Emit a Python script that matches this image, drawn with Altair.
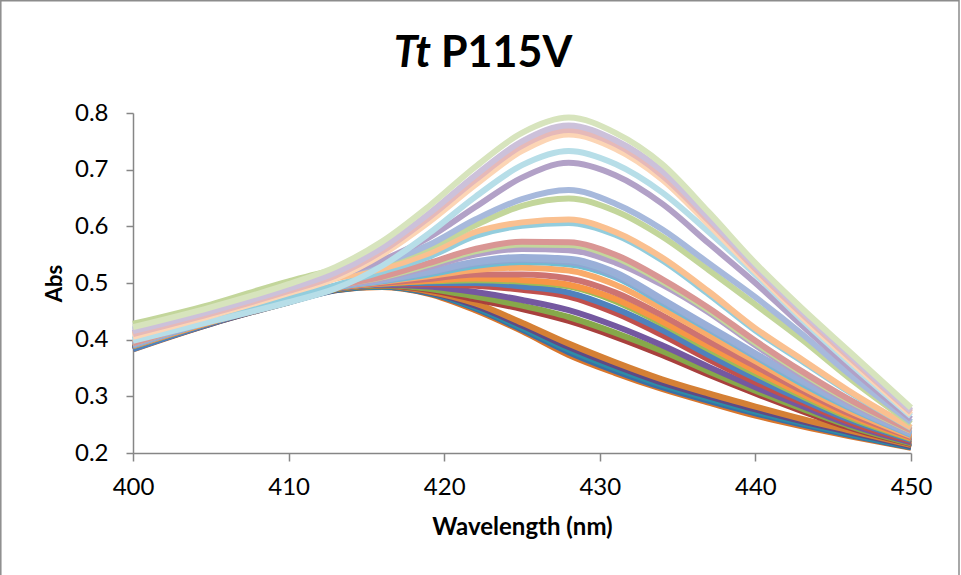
import altair as alt
import pandas as pd

# ---- data ----
wavelengths = [400, 405, 410, 413, 416, 419, 422, 425, 428, 431, 434, 437, 440, 443, 446, 450]

spectrum_ids = [f"s{i:02d}" for i in range(1, 32)]

spectrum_colors = [
    "#D9762C", "#3A6EA5", "#2D8CA6", "#5F4A85", "#D58035",
    "#A8403D", "#86A84A", "#7458A0", "#C0504D", "#4F81BD",
    "#9BBB59", "#F79646", "#CD7371", "#F9AB6B", "#6FBDD1",
    "#8EA7D3", "#95B3D7", "#9AAFD8", "#B2A1C7", "#C3D69B",
    "#D99694", "#93CDDD", "#FAC090", "#C3D69B", "#A7B9DC",
    "#B2A1C7", "#B7DEE8", "#FCD5B5", "#E6B9B8", "#CCC1DA",
    "#D7E4BD",
]

absorbance = [
    [0.383, 0.428, 0.466, 0.487, 0.493, 0.481, 0.452, 0.415, 0.373, 0.341, 0.313, 0.289, 0.266, 0.247, 0.230, 0.209],
    [0.385, 0.428, 0.466, 0.487, 0.494, 0.482, 0.455, 0.418, 0.378, 0.345, 0.316, 0.292, 0.270, 0.250, 0.232, 0.210],
    [0.384, 0.429, 0.467, 0.488, 0.494, 0.483, 0.457, 0.421, 0.382, 0.349, 0.320, 0.296, 0.273, 0.253, 0.234, 0.211],
    [0.386, 0.429, 0.467, 0.488, 0.495, 0.484, 0.460, 0.425, 0.387, 0.354, 0.324, 0.300, 0.277, 0.256, 0.237, 0.212],
    [0.387, 0.430, 0.467, 0.489, 0.495, 0.485, 0.464, 0.430, 0.393, 0.360, 0.330, 0.305, 0.282, 0.260, 0.240, 0.214],
    [0.385, 0.429, 0.467, 0.489, 0.496, 0.488, 0.471, 0.454, 0.433, 0.405, 0.373, 0.338, 0.305, 0.274, 0.245, 0.216],
    [0.386, 0.430, 0.468, 0.489, 0.496, 0.490, 0.476, 0.460, 0.440, 0.412, 0.380, 0.344, 0.310, 0.278, 0.248, 0.217],
    [0.387, 0.430, 0.468, 0.490, 0.497, 0.494, 0.484, 0.470, 0.452, 0.424, 0.390, 0.352, 0.316, 0.283, 0.251, 0.219],
    [0.384, 0.429, 0.468, 0.490, 0.498, 0.498, 0.495, 0.488, 0.476, 0.447, 0.408, 0.365, 0.325, 0.289, 0.255, 0.221],
    [0.383, 0.429, 0.468, 0.490, 0.498, 0.500, 0.500, 0.494, 0.483, 0.455, 0.417, 0.373, 0.332, 0.294, 0.259, 0.223],
    [0.388, 0.431, 0.469, 0.491, 0.499, 0.503, 0.505, 0.502, 0.494, 0.468, 0.428, 0.383, 0.340, 0.300, 0.263, 0.225],
    [0.389, 0.431, 0.469, 0.491, 0.499, 0.504, 0.508, 0.505, 0.497, 0.472, 0.432, 0.388, 0.345, 0.304, 0.266, 0.226],
    [0.389, 0.432, 0.470, 0.491, 0.500, 0.507, 0.515, 0.515, 0.508, 0.483, 0.443, 0.397, 0.353, 0.310, 0.270, 0.228],
    [0.390, 0.432, 0.470, 0.492, 0.502, 0.512, 0.523, 0.527, 0.522, 0.497, 0.455, 0.408, 0.362, 0.316, 0.275, 0.230],
    [0.390, 0.433, 0.471, 0.492, 0.503, 0.515, 0.530, 0.537, 0.533, 0.510, 0.465, 0.418, 0.370, 0.322, 0.280, 0.232],
    [0.391, 0.433, 0.471, 0.493, 0.504, 0.518, 0.534, 0.541, 0.537, 0.513, 0.468, 0.420, 0.372, 0.325, 0.282, 0.233],
    [0.391, 0.434, 0.472, 0.493, 0.505, 0.519, 0.536, 0.543, 0.540, 0.516, 0.470, 0.422, 0.374, 0.327, 0.283, 0.234],
    [0.392, 0.434, 0.472, 0.494, 0.505, 0.520, 0.538, 0.546, 0.543, 0.519, 0.472, 0.424, 0.376, 0.329, 0.285, 0.235],
    [0.393, 0.435, 0.473, 0.494, 0.508, 0.528, 0.550, 0.560, 0.558, 0.536, 0.497, 0.448, 0.390, 0.337, 0.290, 0.238],
    [0.394, 0.436, 0.473, 0.495, 0.510, 0.532, 0.556, 0.568, 0.567, 0.545, 0.503, 0.452, 0.394, 0.341, 0.293, 0.239],
    [0.394, 0.436, 0.474, 0.495, 0.511, 0.535, 0.560, 0.573, 0.572, 0.550, 0.507, 0.456, 0.398, 0.344, 0.295, 0.240],
    [0.400, 0.436, 0.473, 0.496, 0.520, 0.546, 0.583, 0.601, 0.606, 0.585, 0.540, 0.480, 0.416, 0.362, 0.308, 0.244],
    [0.408, 0.444, 0.484, 0.508, 0.525, 0.552, 0.590, 0.607, 0.612, 0.590, 0.545, 0.485, 0.420, 0.365, 0.310, 0.245],
    [0.428, 0.462, 0.503, 0.523, 0.535, 0.562, 0.602, 0.636, 0.649, 0.627, 0.582, 0.523, 0.462, 0.400, 0.333, 0.252],
    [0.418, 0.452, 0.492, 0.515, 0.535, 0.567, 0.612, 0.648, 0.664, 0.640, 0.595, 0.535, 0.475, 0.410, 0.340, 0.255],
    [0.412, 0.448, 0.488, 0.512, 0.540, 0.580, 0.634, 0.686, 0.712, 0.690, 0.640, 0.570, 0.500, 0.425, 0.352, 0.260],
    [0.398, 0.432, 0.466, 0.490, 0.530, 0.587, 0.652, 0.708, 0.733, 0.710, 0.660, 0.590, 0.515, 0.435, 0.360, 0.265],
    [0.405, 0.442, 0.482, 0.508, 0.550, 0.607, 0.673, 0.733, 0.762, 0.737, 0.683, 0.603, 0.520, 0.440, 0.365, 0.268],
    [0.410, 0.446, 0.486, 0.513, 0.556, 0.615, 0.682, 0.742, 0.770, 0.745, 0.690, 0.610, 0.525, 0.445, 0.370, 0.272],
    [0.415, 0.450, 0.490, 0.518, 0.562, 0.622, 0.690, 0.750, 0.778, 0.752, 0.698, 0.615, 0.530, 0.450, 0.375, 0.275],
    [0.422, 0.457, 0.498, 0.528, 0.573, 0.635, 0.705, 0.765, 0.792, 0.765, 0.710, 0.625, 0.535, 0.455, 0.380, 0.280],
]

x_ticks = [400, 410, 420, 430, 440, 450]
y_ticks = [0.2, 0.3, 0.4, 0.5, 0.6, 0.7, 0.8]

title_italic = "Tt"
title_rest = "P115V"

# ---- build long table ----
rows = []
for sid, vals in zip(spectrum_ids, absorbance):
    for w, a in zip(wavelengths, vals):
        rows.append({"series": sid, "wavelength": w, "abs": a})
df = pd.DataFrame(rows)

W, H = 778, 340
FONT = "Lato"
GRAY = "#868686"

lines = alt.Chart(df).mark_line(strokeWidth=6, interpolate="monotone").encode(
    x=alt.X("wavelength:Q",
            scale=alt.Scale(domain=[400, 450], nice=False, zero=False),
            axis=alt.Axis(values=x_ticks, title="Wavelength (nm)", grid=False,
                          domainColor=GRAY, domainWidth=1.5, tickColor=GRAY,
                          tickWidth=1.5, tickSize=8, labelFontSize=24,
                          labelColor="black", labelPadding=14, labelFont=FONT,
                          labelFlush=False,
                          titleFont=FONT, titleFontSize=24, titleFontWeight="bold",
                          titleColor="black", titlePadding=16)),
    y=alt.Y("abs:Q",
            scale=alt.Scale(domain=[0.2, 0.8], nice=False, zero=False),
            axis=alt.Axis(values=y_ticks, format=".1f", title="Abs", grid=False,
                          domainColor=GRAY, domainWidth=1.5, tickColor=GRAY,
                          tickWidth=1.5, tickSize=7, labelFontSize=24,
                          labelColor="black", labelPadding=18, labelFont=FONT,
                          labelFlush=False,
                          titleFont=FONT, titleFontSize=22, titleFontWeight="bold",
                          titleColor="black", titlePadding=8)),
    color=alt.Color("series:N", scale=alt.Scale(domain=spectrum_ids, range=spectrum_colors),
                    legend=None),
    order=alt.Order("wavelength:Q"),
)

title_df = pd.DataFrame({"a": [title_italic], "b": [title_rest]})
t1 = alt.Chart(title_df).mark_text(font=FONT, fontSize=43, fontWeight="bold",
                                   fontStyle="italic", align="right",
                                   baseline="alphabetic", color="black").encode(
    text="a:N", x=alt.value(298), y=alt.value(-46))
t2 = alt.Chart(title_df).mark_text(font=FONT, fontSize=43, fontWeight="bold",
                                   align="left", baseline="alphabetic",
                                   color="black").encode(
    text="b:N", x=alt.value(308), y=alt.value(-46))

frame = alt.Chart(title_df).mark_rect(fillOpacity=0, stroke="#8C8C8C", strokeWidth=1.5).encode(
    x=alt.value(-132.2), x2=alt.value(826.0), y=alt.value(-112.2), y2=alt.value(480))

chart = alt.layer(frame, lines, t1, t2).properties(
    width=W, height=H,
    autosize=alt.AutoSizeParams(type="none"),
    padding={"left": 133, "top": 113, "right": 50, "bottom": 122},
    background="white",
).configure_view(stroke=None)

chart.save("out.html", embed_options={"renderer": "svg", "actions": False})
